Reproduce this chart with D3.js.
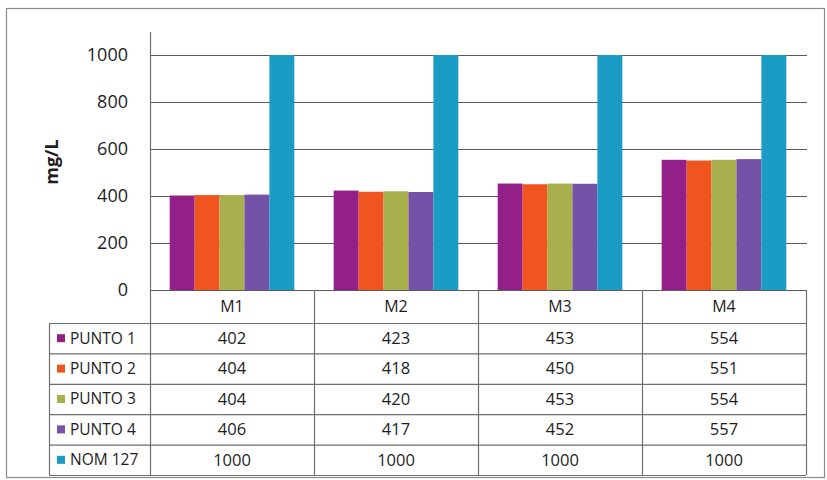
<!DOCTYPE html>
<html>
<head>
<meta charset="utf-8">
<script src="https://cdn.jsdelivr.net/npm/d3@7"></script>
<style>
  html, body { margin: 0; padding: 0; background: #fff; }
  svg { display: block; font-family: "Open Sans", "Liberation Sans", sans-serif; }
</style>
</head>
<body>
<svg id="chart" width="827" height="480"></svg>
<script>
// Sampling campaigns and measurement points (mg/L)
const categories = ["M1", "M2", "M3", "M4"];
const seriesNames = ["PUNTO 1", "PUNTO 2", "PUNTO 3", "PUNTO 4", "NOM 127"];
const punto1 = [402, 423, 453, 554];
const punto2 = [404, 418, 450, 551];
const punto3 = [404, 420, 453, 554];
const punto4 = [406, 417, 452, 557];
const nom127 = [1000, 1000, 1000, 1000];
const seriesColors = ["#931f88", "#f0541f", "#a7b04c", "#7452a7", "#1b9cc5"];
const yTicks = [0, 200, 400, 600, 800, 1000];
const yTitle = "mg/L";

const seriesValues = [punto1, punto2, punto3, punto4, nom127];

const svg = d3.select("#chart");

// frame
svg.append("rect")
  .attr("x", 6.5).attr("y", 8.5).attr("width", 818).attr("height", 469)
  .attr("fill", "none").attr("stroke", "#8a8a8a").attr("stroke-width", 1.2);

const plotLeft = 150, plotRight = 806;
const x = d3.scaleBand().domain(categories).range([plotLeft, plotRight])
  .paddingInner(0.24).paddingOuter(0.12);
const xOuter = d3.scaleBand().domain(categories).range([plotLeft, plotRight]);
const xSeries = d3.scaleBand().domain(seriesNames).range([0, x.bandwidth()]);
const y = d3.scaleLinear().domain([0, 1000]).range([290, 55]);

// gridlines
svg.append("g").selectAll("line").data(yTicks).join("line")
  .attr("x1", plotLeft).attr("x2", plotRight + 1)
  .attr("y1", d => Math.round(y(d)) + 0.5).attr("y2", d => Math.round(y(d)) + 0.5)
  .attr("stroke", "#5a5a5a").attr("stroke-width", 1.2);

// y tick labels
svg.append("g").selectAll("text").data(yTicks).join("text")
  .attr("x", 128).attr("y", d => y(d))
  .attr("dy", "0.35em").attr("text-anchor", "end")
  .attr("font-size", 18).attr("fill", "#1e1e1e")
  .text(d => d);

// y title
svg.append("text")
  .attr("transform", "translate(52,162) rotate(-90)")
  .attr("text-anchor", "middle").attr("dy", "0.35em")
  .attr("font-size", 18).attr("font-weight", "bold").attr("fill", "#1e1e1e")
  .text(yTitle);

// bars
const groups = svg.append("g").selectAll("g").data(seriesNames).join("g")
  .attr("fill", (d, i) => seriesColors[i]);
groups.selectAll("rect")
  .data((name, i) => categories.map((c, j) => ({ c, name, v: seriesValues[i][j] })))
  .join("rect")
  .attr("x", d => x(d.c) + xSeries(d.name))
  .attr("width", xSeries.bandwidth())
  .attr("y", d => y(d.v))
  .attr("height", d => y(0) - y(d.v));

// data table
const headerTop = 290, rowsTop = 323, tableBottom = 475, legendLeft = 49;
const rows = d3.scaleBand().domain(seriesNames).range([rowsTop, tableBottom]);
const lineColor = "#6e6e6e";
const tbl = svg.append("g").attr("stroke", lineColor).attr("stroke-width", 1.2);

// horizontal lines across the value columns and the legend column
tbl.selectAll("line.h").data(seriesNames).join("line").attr("class", "h")
  .attr("x1", legendLeft).attr("x2", plotRight)
  .attr("y1", d => rows(d) + 0.5).attr("y2", d => rows(d) + 0.5);
tbl.append("line").attr("x1", legendLeft).attr("x2", plotRight)
  .attr("y1", tableBottom + 0.5).attr("y2", tableBottom + 0.5);
tbl.append("line").attr("x1", legendLeft + 0.5).attr("x2", legendLeft + 0.5)
  .attr("y1", rowsTop).attr("y2", tableBottom);

// vertical column dividers (axis line included)
const dividers = categories.map(c => xOuter(c)).concat([plotRight]);
tbl.selectAll("line.v").data(dividers).join("line").attr("class", "v")
  .attr("x1", d => Math.round(d) + 0.5).attr("x2", d => Math.round(d) + 0.5)
  .attr("y1", (d, i) => i === 0 ? 32 : headerTop).attr("y2", tableBottom);

// column headers
svg.append("g").selectAll("text").data(categories).join("text")
  .attr("x", d => xOuter(d) + xOuter.bandwidth() / 2)
  .attr("y", (headerTop + rowsTop) / 2)
  .attr("dy", "0.35em").attr("text-anchor", "middle")
  .attr("font-size", 16).attr("fill", "#1e1e1e")
  .text(d => d);

// legend keys and names
const leg = svg.append("g").selectAll("g").data(seriesNames).join("g")
  .attr("transform", d => `translate(0,${rows(d) + rows.bandwidth() / 2})`);
leg.append("rect")
  .attr("x", 57).attr("y", -4).attr("width", 8).attr("height", 8)
  .attr("fill", (d, i) => seriesColors[i]);
leg.append("text")
  .attr("x", 70).attr("dy", "0.35em")
  .attr("font-size", 15.5).attr("fill", "#1e1e1e")
  .text(d => d);

// values
seriesNames.forEach((name, i) => {
  svg.append("g").selectAll("text").data(categories).join("text")
    .attr("x", c => xOuter(c) + xOuter.bandwidth() / 2)
    .attr("y", rows(name) + rows.bandwidth() / 2)
    .attr("dy", "0.35em").attr("text-anchor", "middle")
    .attr("font-size", 16.5).attr("fill", "#1e1e1e")
    .text((c, j) => seriesValues[i][j]);
});
</script>
</body>
</html>
